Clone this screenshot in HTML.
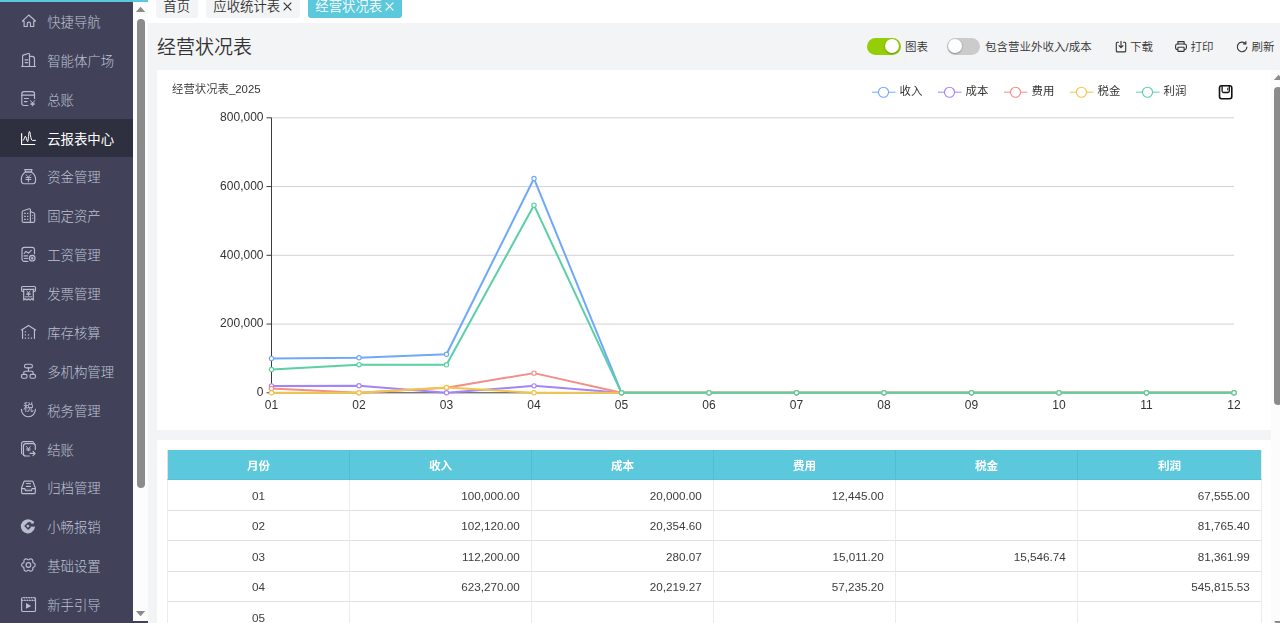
<!DOCTYPE html>
<html lang="zh-CN">
<head>
<meta charset="utf-8">
<title>经营状况表</title>
<style>
html,body{margin:0;padding:0}
body{width:1280px;height:623px;overflow:hidden;position:relative;background:#f3f4f6;
  font-family:"Liberation Sans","Noto Sans CJK SC",sans-serif;color:#333;font-size:13.3px;font-weight:350}
*{box-sizing:border-box}
.abs{position:absolute}
/* sidebar */
#side{position:absolute;left:0;top:0;width:148px;height:623px;background:#414259;overflow:hidden}
#topbar{position:absolute;left:0;top:0;width:148px;height:2px;background:#5bc8dc;z-index:5}
#menu{position:absolute;left:0;top:0;width:133px;height:623px;overflow:hidden}
.mi{position:absolute;left:0;width:133px;height:38.93px;color:#bfc3d4;font-size:13.4px;line-height:38.93px;white-space:nowrap}
.mi.act{background:#2e2f3f;color:#fff;height:37.9px}
.mi.act span{font-weight:400}
.ic{position:absolute;left:16px;width:24px;height:24px;overflow:visible}
.mi span{position:absolute;left:47.2px;top:1.9px;font-weight:300}
#sbar{position:absolute;left:133px;top:2px;width:15px;height:619px;background:#fcfcfc}
#sbar .thumb{position:absolute;left:3.6px;top:17px;width:8px;height:468.8px;border-radius:4px;background:#8b8b8b}
.arr-up{position:absolute;width:0;height:0;border-left:4.6px solid transparent;border-right:4.6px solid transparent;border-bottom:5px solid #8b8b8b}
.arr-dn{position:absolute;width:0;height:0;border-left:4.6px solid transparent;border-right:4.6px solid transparent;border-top:5px solid #8b8b8b}
/* tabs */
#tabs{position:absolute;left:148px;top:0;width:1132px;height:23px;background:#fff}
.tab{position:absolute;top:-6px;height:24px;border-radius:3px;background:#f3f4f6;color:#333;font-size:13.4px;line-height:25.5px;white-space:nowrap;padding-left:7.3px}
.tab.on{background:#5bc8dc;color:#fff}
.tab .x{position:absolute;top:7.6px;width:9px;height:9px;overflow:visible}
/* header */
#title{position:absolute;left:157px;top:34px;font-size:19px;line-height:28px;color:#333;white-space:nowrap}
.tool{position:absolute;top:39px;height:16px;line-height:16px;font-size:11.5px;color:#333;white-space:nowrap}
.sw{position:absolute;top:37.6px;width:33.5px;height:17px;border-radius:8.5px}
.sw i{position:absolute;top:1.2px;width:14.6px;height:14.6px;border-radius:50%;background:#fff;box-shadow:0 0.8px 1.8px rgba(0,0,0,.38)}
/* cards */
#card1{position:absolute;left:157px;top:70px;width:1114px;height:360px;background:#fff}
#card2{position:absolute;left:157px;top:439.7px;width:1114px;height:200px;background:#fff}
#chart{position:absolute;left:0;top:0;width:1280px;height:623px;pointer-events:none}
#chart text{font-family:"Liberation Sans","Noto Sans CJK SC",sans-serif;fill:#333}
#chart .ax{font-size:12px}
#chart .lg{font-size:11.4px;font-weight:400}
#chart .ct{font-size:11.4px}
/* right scrollbar */
#rbar{position:absolute;left:1271px;top:70px;width:15px;height:553px;background:#fcfcfc}
#rbar .thumb{position:absolute;left:2.9px;top:16.7px;width:8px;height:318.5px;border-radius:4px;background:#8b8b8b}
/* table */
table{position:absolute;left:167px;top:450px;width:1095px;border-collapse:separate;border-spacing:0;table-layout:fixed;font-size:12px}
th{height:30px;background:#5bc8dc;color:#fff;font-weight:700;font-size:11.6px;text-align:center;border-right:1px solid #52bdd2;border-bottom:1px solid #50c3da;padding:1px 0 0 0}
th:first-child{border-left:1px solid #e6dede}
th:last-child{border-right:1px solid #f1e9e9}
td{border-right:1px solid #ebebeb;border-bottom:1px solid #e1e1e1;padding:0 11.3px 0 0;color:#3c3c3c;background:#fff;font-weight:400;font-size:11.7px}
td:first-child{border-left:1px solid #ebebeb}
td.c{text-align:center;padding:0}
td.r{text-align:right}
</style>
</head>
<body>
<div id="side">
<div id="menu">
<div class="mi" style="top:2.00px"><span>快捷导航</span></div>
<svg class="ic" style="top:9px;color:#b9bdd0" viewBox="0 0 24 24"><g fill="none" stroke="currentColor" stroke-width="1.15" stroke-linecap="round" stroke-linejoin="round"><path d="M8.100 12.050H6.350L12.750 6.050L19.450 12.050H17.750V17.450H14.450V14.400Q14.450 13.100 12.900 13.100Q11.300 13.100 11.300 14.400V17.450H8.100Z"/></g></svg>
<div class="mi" style="top:40.88px"><span>智能体广场</span></div>
<svg class="ic" style="top:48px;color:#b9bdd0" viewBox="0 0 24 24"><g fill="none" stroke="currentColor" stroke-width="1.15" stroke-linecap="round" stroke-linejoin="round"><path d="M5.600 18.500H19.500"/><path d="M6.600 18.500V8Q6.600 7.350 7.200 7.150L12.300 5.550Q13.500 5.250 13.500 6.400V18.500"/><path d="M13.500 8.400H16Q18.500 8.400 18.500 11V18.500"/><path d="M9.200 11.900H11.700" stroke-width="1.400"/><path d="M9.200 14.600H11.700"/></g></svg>
<div class="mi" style="top:79.76px"><span>总账</span></div>
<svg class="ic" style="top:87px;color:#b9bdd0" viewBox="0 0 24 24"><g fill="none" stroke="currentColor" stroke-width="1.15" stroke-linecap="round" stroke-linejoin="round"><path d="M18.500 11.500V6.700a2.100 2.100 0 0 0-2.100-2.100H7.900a2.100 2.100 0 0 0-2.100 2.100V16.400a2.100 2.100 0 0 0 2.100 2.100H11.900"/><path d="M5.800 8.100H18.500"/><path d="M8.400 11.500H12.400M8.400 14.600H11.100"/><path d="M14.500 13.600L16.600 16L18.700 13.600M16.600 16V18.800M14.900 16.300H18.300M14.900 17.600H18.300" stroke-width="0.950"/></g></svg>
<div class="mi act" style="top:118.64px"><span>云报表中心</span></div>
<svg class="ic" style="top:126px;color:#fff" viewBox="0 0 24 24"><g fill="none" stroke="currentColor" stroke-width="1.15" stroke-linecap="round" stroke-linejoin="round" stroke-width="1.250"><path d="M5.600 7.500V18.500H18.700"/><path d="M7.100 14.600C8.300 14.600 8.600 10.200 9.400 10.200C10.300 10.200 10.800 15.600 11.600 15.600C12.500 15.600 12.600 5.400 13.400 5.400C14.400 5.400 14.500 14.400 16.400 14.400H19.500" stroke-width="1"/></g></svg>
<div class="mi" style="top:157.52px"><span>资金管理</span></div>
<svg class="ic" style="top:165px;color:#b9bdd0" viewBox="0 0 24 24"><g fill="none" stroke="currentColor" stroke-width="1.15" stroke-linecap="round" stroke-linejoin="round"><path d="M9.600 7C7 8.600 5.300 11 5.300 14.400C5.300 17.500 6.500 18.700 8 18.700H16.900C18.400 18.700 19.600 17.500 19.600 14.400C19.600 11 17.900 8.600 15.300 7Z"/><path d="M8.800 4.550H16L15.300 7H9.600Z"/><path d="M10.200 9.700L12.400 12.400L14.600 9.700M12.400 12.400V16.800M9.900 12.600H14.900M9.900 14.500H14.900" stroke-width="0.950"/></g></svg>
<div class="mi" style="top:196.40px"><span>固定资产</span></div>
<svg class="ic" style="top:204px;color:#b9bdd0" viewBox="0 0 24 24"><g fill="none" stroke="currentColor" stroke-width="1.15" stroke-linecap="round" stroke-linejoin="round"><path d="M14.400 18.400H7.700a1.500 1.500 0 0 1-1.500-1.500V8.200a1.500 1.500 0 0 1 1.100-1.450L13.200 4.800a1 1 0 0 1 1.200 1Z"/><path d="M14.400 7.400L17.900 9.100a1.500 1.500 0 0 1 0.800 1.300V16.900a1.500 1.500 0 0 1-1.500 1.500H14.400"/><path stroke-linecap="butt" d="M8.100 9.400H9.800M11 9.400H12.300M8.100 12.300H9.800M11 12.300H12.300M8.100 15.400H9.800M11 15.400H12.300M16.600 11V11.800M16.600 13.700V14.500"/></g></svg>
<div class="mi" style="top:235.28px"><span>工资管理</span></div>
<svg class="ic" style="top:243px;color:#b9bdd0" viewBox="0 0 24 24"><g fill="none" stroke="currentColor" stroke-width="1.15" stroke-linecap="round" stroke-linejoin="round" stroke-width="1.300"><path d="M18.500 10.700V6.600a2.300 2.300 0 0 0-2.300-2.300H8.300a2.300 2.300 0 0 0-2.300 2.300V16a2.300 2.300 0 0 0 2.300 2.300H11.900"/><path d="M8.200 10.500L9.900 8.300L12.500 10.200L15.300 7.400" stroke-width="1.100"/><path d="M8.200 12.900H11.500" stroke-width="1.400"/><path d="M8.200 15.400H11.900" stroke-width="1"/><circle cx="16.200" cy="15.200" r="2.850" stroke-width="1.100" fill="currentColor" fill-opacity="0.180"/><path d="M15.400 14.100L16.200 15.100L17 14.100M16.200 15.100V16.600M15.400 15.500H17" stroke-width="0.800"/></g></svg>
<div class="mi" style="top:274.16px"><span>发票管理</span></div>
<svg class="ic" style="top:282px;color:#b9bdd0" viewBox="0 0 24 24"><g fill="none" stroke="currentColor" stroke-width="1.15" stroke-linecap="round" stroke-linejoin="round"><path d="M7.500 9.300H6.600a1 1 0 0 1-1-1V5.500a1 1 0 0 1 1-1H18.500a1 1 0 0 1 1 1V8.300a1 1 0 0 1-1 1H17.500"/><path d="M7.200 7.300H18"/><path d="M7.700 7.300V18.100l1.600-1.400 1.600 1.400 1.600-1.400 1.600 1.400 1.600-1.400 1.600 1.400V7.300"/><path d="M10.900 8.900L12.500 10.900L14.100 8.900M12.500 10.900V13.400M10.800 11.300H14.200M10.800 12.400H14.200" stroke-width="0.900"/><path d="M9.200 14.800H15.800" stroke-width="0.900"/></g></svg>
<div class="mi" style="top:313.04px"><span>库存核算</span></div>
<svg class="ic" style="top:321px;color:#b9bdd0" viewBox="0 0 24 24"><g fill="none" stroke="currentColor" stroke-width="1.15" stroke-linecap="round" stroke-linejoin="round"><path d="M5.400 8.900L12.500 4.400L19.600 8.900"/><path d="M6.550 8.500V17.500M18.450 8.500V17.500"/></g><g fill="currentColor"><rect x="8.800" y="10.200" width="1.250" height="1.250"/><rect x="8.800" y="13.300" width="1.250" height="1.250"/><rect x="11.900" y="13.300" width="1.250" height="1.250"/><rect x="8.800" y="16.500" width="1.250" height="1.250"/><rect x="11.900" y="16.500" width="1.250" height="1.250"/><rect x="14.800" y="16.500" width="1.250" height="1.250"/></g></svg>
<div class="mi" style="top:351.92px"><span>多机构管理</span></div>
<svg class="ic" style="top:360px;color:#b9bdd0" viewBox="0 0 24 24"><g fill="none" stroke="currentColor" stroke-width="1.15" stroke-linecap="round" stroke-linejoin="round" stroke-width="1.250"><rect x="8.500" y="4.250" width="7.900" height="3.650" rx="1.750"/><rect x="5.500" y="14.300" width="5.500" height="3.900" rx="1.500"/><rect x="14" y="14.300" width="5.500" height="3.900" rx="1.500"/><path d="M12.450 7.800V11.200M7.800 14.300V12.400Q7.800 11.200 9 11.200H15.900Q17.100 11.200 17.100 12.400V14.300"/></g></svg>
<div class="mi" style="top:390.80px"><span>税务管理</span></div>
<svg class="ic" style="top:399px;color:#b9bdd0;will-change:transform" viewBox="0 0 24 24"><g fill="none" stroke="currentColor" stroke-width="1.15" stroke-linecap="round" stroke-linejoin="round" stroke-width="1.250"><path d="M5.350 10.300A7.050 7.400 0 0 0 19.450 10.300"/></g><text x="12.500" y="12.300" font-size="10.500" style="opacity:0.92" text-anchor="middle" fill="currentColor" font-family="Liberation Sans, Noto Sans CJK SC, sans-serif" font-weight="500">税</text></svg>
<div class="mi" style="top:429.68px"><span>结账</span></div>
<svg class="ic" style="top:438px;color:#b9bdd0" viewBox="0 0 24 24"><g fill="none" stroke="currentColor" stroke-width="1.15" stroke-linecap="round" stroke-linejoin="round"><path d="M5.600 15.300V5.700a2.100 2.100 0 0 1 2.100-2.100H16.800"/><path d="M19.300 11.500V7.900a2.300 2.300 0 0 0-2.300-2.300H9.800a2.300 2.300 0 0 0-2.300 2.300V15.700a2.300 2.300 0 0 0 2.300 2.300H13.500"/><path d="M16.900 3.600L18.700 5.900M5.600 15.400L7.900 17.500" stroke-width="0.900"/><path d="M10.500 8.500L12.400 10.800L14.300 8.500M12.400 10.800V13M10.700 10.900H14.100M10.700 12H14.100" stroke-width="0.900"/><path d="M14.100 15.400H19M17 13.400L19.100 15.400L17 17.600"/></g></svg>
<div class="mi" style="top:468.56px"><span>归档管理</span></div>
<svg class="ic" style="top:477px;color:#b9bdd0" viewBox="0 0 24 24"><g fill="none" stroke="currentColor" stroke-width="1.15" stroke-linecap="round" stroke-linejoin="round"><path d="M8.900 4.050H16Q16.700 4.050 17 4.700L19.300 10.700V15.600a1 1 0 0 1-1 1H6.600a1 1 0 0 1-1-1V10.700L7.900 4.700Q8.200 4.050 8.900 4.050Z"/><path d="M5.700 11.600H8.700L9.600 13.700H15.300L16.200 11.600H19.200" fill="currentColor" fill-opacity="0.250"/><path d="M10.400 6.500H14.500M10.400 9.400H14.500"/></g></svg>
<div class="mi" style="top:507.44px"><span>小畅报销</span></div>
<svg class="ic" style="top:516px;color:#b9bdd0" viewBox="0 0 24 24"><path d="M17.700 6.100A7.100 7.100 0 1 0 18.950 11.300L19 10.600H15.600L12.200 6.100Z" fill="currentColor"/><circle cx="11.900" cy="10.200" r="7.100" fill="none"/><path d="M8.200 10.100L12.200 6.100L15.200 9.100L14.700 10.600H15.600L12.200 14.100Z" fill="#414259"/><path d="M14.700 9L17.500 6.900L19.700 7.300L19.700 10.350L15.300 10.350Z" fill="#414259"/><rect x="19.150" y="10" width="1" height="4" fill="#414259"/><path d="M10.200 10.100L11.900 8.400L13.600 10.100L11.900 11.800Z" fill="currentColor"/><circle cx="16.350" cy="6.250" r="1.600" fill="currentColor"/></svg>
<div class="mi" style="top:546.32px"><span>基础设置</span></div>
<svg class="ic" style="top:554px;color:#b9bdd0" viewBox="0 0 24 24"><g fill="none" stroke="currentColor" stroke-width="1.15" stroke-linecap="round" stroke-linejoin="round" stroke-width="1.200"><circle cx="12.400" cy="11" r="2.350"/><path d="M19.10 11.00 L19.08 11.44 L19.00 11.87 L18.79 12.27 L18.46 12.62 L18.01 12.91 L17.55 13.13 L17.15 13.34 L16.90 13.60 L16.81 13.95 L16.82 14.39 L16.86 14.91 L16.83 15.43 L16.70 15.90 L16.45 16.28 L16.12 16.57 L15.75 16.80 L15.36 17.01 L14.95 17.15 L14.50 17.17 L14.02 17.06 L13.56 16.81 L13.13 16.52 L12.75 16.29 L12.40 16.20 L12.05 16.29 L11.67 16.52 L11.24 16.81 L10.78 17.06 L10.30 17.17 L9.85 17.15 L9.44 17.01 L9.05 16.80 L8.68 16.57 L8.35 16.28 L8.10 15.90 L7.97 15.43 L7.94 14.91 L7.98 14.39 L7.99 13.95 L7.90 13.60 L7.65 13.34 L7.25 13.13 L6.79 12.91 L6.34 12.62 L6.01 12.27 L5.80 11.87 L5.72 11.44 L5.70 11.00 L5.72 10.56 L5.80 10.13 L6.01 9.73 L6.34 9.38 L6.79 9.09 L7.25 8.87 L7.65 8.66 L7.90 8.40 L7.99 8.05 L7.98 7.61 L7.94 7.09 L7.97 6.57 L8.10 6.10 L8.35 5.72 L8.68 5.43 L9.05 5.20 L9.44 4.99 L9.85 4.85 L10.30 4.83 L10.78 4.94 L11.24 5.19 L11.67 5.48 L12.05 5.71 L12.40 5.80 L12.75 5.71 L13.13 5.48 L13.56 5.19 L14.02 4.94 L14.50 4.83 L14.95 4.85 L15.36 4.99 L15.75 5.20 L16.12 5.43 L16.45 5.72 L16.70 6.10 L16.83 6.57 L16.86 7.09 L16.82 7.61 L16.81 8.05 L16.90 8.40 L17.15 8.66 L17.55 8.87 L18.01 9.09 L18.46 9.38 L18.79 9.73 L19.00 10.13 L19.08 10.56Z"/></g></svg>
<div class="mi" style="top:585.20px"><span>新手引导</span></div>
<svg class="ic" style="top:593px;color:#b9bdd0" viewBox="0 0 24 24"><g fill="none" stroke="currentColor" stroke-width="1.15" stroke-linecap="round" stroke-linejoin="round" stroke-width="1.200"><rect x="5.600" y="4.450" width="13.900" height="14.050" rx="1.300"/><path d="M5.600 7.500H19.500"/><rect x="5.600" y="4.450" width="13.900" height="3.050" fill="currentColor" fill-opacity="0.450" stroke="none"/><path d="M6.800 5L7.800 7.100M9.300 5L10.300 7.100M11.800 5L12.800 7.100M14.300 5L15.300 7.100M16.800 5L17.800 7.100" stroke="#414259" stroke-width="1.150"/><path d="M10 10V15.800L15.200 12.900Z" fill="currentColor" stroke="none"/></g></svg>
</div>
<div id="sbar"><svg class="abs" style="left:0;top:0;width:15px;height:12px" viewBox="0 0 15 12"><path d="M2.900 9.900h9.300L7.550 4.700z" fill="#8b8b8b"/></svg><div class="thumb"></div><svg class="abs" style="left:0;top:607px;width:15px;height:12px" viewBox="0 0 15 12"><path d="M2.900 2h9.300L7.550 7.200z" fill="#8b8b8b"/></svg></div>
<div id="topbar"></div>
</div>

<div id="tabs">
<div class="tab" style="left:8px;width:42px">首页</div>
<div class="tab" style="left:58px;width:94px">应收统计表<svg class="x" style="left:76.5px" viewBox="0 0 9 9"><path d="M0.700 0.700l7.600 7.600M8.300 0.700l-7.600 7.600" stroke="#333" stroke-width="1.2" fill="none"/></svg></div>
<div class="tab on" style="left:160px;width:94px">经营状况表<svg class="x" style="left:76.5px" viewBox="0 0 9 9"><path d="M0.700 0.700l7.600 7.600M8.300 0.700l-7.600 7.600" stroke="#fff" stroke-width="1.2" fill="none"/></svg></div>
</div>

<div id="title">经营状况表</div>

<div class="sw" style="left:867px;background:#95cd06"><i style="left:17.5px"></i></div>
<div class="tool" style="left:905px">图表</div>
<div class="sw" style="left:946.5px;background:#cbcbcb"><i style="left:1.4px"></i></div>
<div class="tool" style="left:985px">包含营业外收入/成本</div>
<div class="tool" style="left:1130px">下载</div>
<div class="tool" style="left:1190.5px">打印</div>
<div class="tool" style="left:1251.6px">刷新</div>
<svg class="abs" style="left:1114px;top:40px;width:14px;height:14px" viewBox="0 0 14 14" fill="none" stroke="#333" stroke-width="1.1" stroke-linecap="round" stroke-linejoin="round"><path d="M4.500 2.300H3.300a1 1 0 0 0-1 1v7.600a1 1 0 0 0 1 1h7.400a1 1 0 0 0 1-1V3.300a1 1 0 0 0-1-1H9.500"/><path d="M7 1.300v6M5 5.600L7 7.600l2-2"/></svg>
<svg class="abs" style="left:1174px;top:40px;width:14px;height:14px" viewBox="0 0 14 14" fill="none" stroke="#333" stroke-width="1.1" stroke-linecap="round" stroke-linejoin="round"><path d="M3.900 4V1.600h6.200V4"/><rect x="1.600" y="4" width="10.800" height="5.600" rx="1.800"/><rect x="3.900" y="7.200" width="6.200" height="4.200" rx="0.500" fill="#f3f4f6"/></svg>
<svg class="abs" style="left:1235px;top:40px;width:14px;height:14px" viewBox="0 0 14 14" fill="none" stroke="#333" stroke-width="1.1" stroke-linecap="round" stroke-linejoin="round"><path d="M10.600 3.600A4.800 4.800 0 1 0 11.900 7"/><path d="M10.900 1.500v2.400H8.500" /></svg>

<div id="card1"></div>
<div id="card2"></div>
<svg id="chart" viewBox="0 0 1280 623">
<line x1="271.5" y1="117.80" x2="1234.0" y2="117.80" stroke="#d2d2d2" stroke-width="1"/>
<line x1="271.5" y1="186.55" x2="1234.0" y2="186.55" stroke="#d2d2d2" stroke-width="1"/>
<line x1="271.5" y1="255.30" x2="1234.0" y2="255.30" stroke="#d2d2d2" stroke-width="1"/>
<line x1="271.5" y1="324.05" x2="1234.0" y2="324.05" stroke="#d2d2d2" stroke-width="1"/>
<line x1="271.5" y1="117.8" x2="271.5" y2="392.8" stroke="#3c3c3c" stroke-width="1"/>
<line x1="271.5" y1="392.8" x2="1234.0" y2="392.8" stroke="#3c3c3c" stroke-width="1"/>
<line x1="266.5" y1="117.80" x2="271.5" y2="117.80" stroke="#3c3c3c" stroke-width="1"/>
<text x="263.5" y="121.10" text-anchor="end" class="ax">800,000</text>
<line x1="266.5" y1="186.55" x2="271.5" y2="186.55" stroke="#3c3c3c" stroke-width="1"/>
<text x="263.5" y="189.85" text-anchor="end" class="ax">600,000</text>
<line x1="266.5" y1="255.30" x2="271.5" y2="255.30" stroke="#3c3c3c" stroke-width="1"/>
<text x="263.5" y="258.60" text-anchor="end" class="ax">400,000</text>
<line x1="266.5" y1="324.05" x2="271.5" y2="324.05" stroke="#3c3c3c" stroke-width="1"/>
<text x="263.5" y="327.35" text-anchor="end" class="ax">200,000</text>
<line x1="266.5" y1="392.80" x2="271.5" y2="392.80" stroke="#3c3c3c" stroke-width="1"/>
<text x="263.5" y="396.10" text-anchor="end" class="ax">0</text>
<text x="271.50" y="409.00" text-anchor="middle" class="ax">01</text>
<text x="359.00" y="409.00" text-anchor="middle" class="ax">02</text>
<text x="446.50" y="409.00" text-anchor="middle" class="ax">03</text>
<text x="534.00" y="409.00" text-anchor="middle" class="ax">04</text>
<text x="621.50" y="409.00" text-anchor="middle" class="ax">05</text>
<text x="709.00" y="409.00" text-anchor="middle" class="ax">06</text>
<text x="796.50" y="409.00" text-anchor="middle" class="ax">07</text>
<text x="884.00" y="409.00" text-anchor="middle" class="ax">08</text>
<text x="971.50" y="409.00" text-anchor="middle" class="ax">09</text>
<text x="1059.00" y="409.00" text-anchor="middle" class="ax">10</text>
<text x="1146.50" y="409.00" text-anchor="middle" class="ax">11</text>
<text x="1234.00" y="409.00" text-anchor="middle" class="ax">12</text>
<polyline points="271.50,358.43 359.00,357.70 446.50,354.23 534.00,178.55 621.50,392.80 709.00,392.80 796.50,392.80 884.00,392.80 971.50,392.80 1059.00,392.80 1146.50,392.80 1234.00,392.80" fill="none" stroke="#6fa8fa" stroke-width="2" stroke-linejoin="round"/>
<circle cx="271.50" cy="358.43" r="2.15" fill="#fff" stroke="#6fa8fa" stroke-width="1.15"/>
<circle cx="359.00" cy="357.70" r="2.15" fill="#fff" stroke="#6fa8fa" stroke-width="1.15"/>
<circle cx="446.50" cy="354.23" r="2.15" fill="#fff" stroke="#6fa8fa" stroke-width="1.15"/>
<circle cx="534.00" cy="178.55" r="2.15" fill="#fff" stroke="#6fa8fa" stroke-width="1.15"/>
<circle cx="621.50" cy="392.80" r="2.15" fill="#fff" stroke="#6fa8fa" stroke-width="1.15"/>
<circle cx="709.00" cy="392.80" r="2.15" fill="#fff" stroke="#6fa8fa" stroke-width="1.15"/>
<circle cx="796.50" cy="392.80" r="2.15" fill="#fff" stroke="#6fa8fa" stroke-width="1.15"/>
<circle cx="884.00" cy="392.80" r="2.15" fill="#fff" stroke="#6fa8fa" stroke-width="1.15"/>
<circle cx="971.50" cy="392.80" r="2.15" fill="#fff" stroke="#6fa8fa" stroke-width="1.15"/>
<circle cx="1059.00" cy="392.80" r="2.15" fill="#fff" stroke="#6fa8fa" stroke-width="1.15"/>
<circle cx="1146.50" cy="392.80" r="2.15" fill="#fff" stroke="#6fa8fa" stroke-width="1.15"/>
<circle cx="1234.00" cy="392.80" r="2.15" fill="#fff" stroke="#6fa8fa" stroke-width="1.15"/>
<polyline points="271.50,385.93 359.00,385.80 446.50,392.70 534.00,385.85 621.50,392.80 709.00,392.80 796.50,392.80 884.00,392.80 971.50,392.80 1059.00,392.80 1146.50,392.80 1234.00,392.80" fill="none" stroke="#a484fa" stroke-width="2" stroke-linejoin="round"/>
<circle cx="271.50" cy="385.93" r="2.15" fill="#fff" stroke="#a484fa" stroke-width="1.15"/>
<circle cx="359.00" cy="385.80" r="2.15" fill="#fff" stroke="#a484fa" stroke-width="1.15"/>
<circle cx="446.50" cy="392.70" r="2.15" fill="#fff" stroke="#a484fa" stroke-width="1.15"/>
<circle cx="534.00" cy="385.85" r="2.15" fill="#fff" stroke="#a484fa" stroke-width="1.15"/>
<circle cx="621.50" cy="392.80" r="2.15" fill="#fff" stroke="#a484fa" stroke-width="1.15"/>
<circle cx="709.00" cy="392.80" r="2.15" fill="#fff" stroke="#a484fa" stroke-width="1.15"/>
<circle cx="796.50" cy="392.80" r="2.15" fill="#fff" stroke="#a484fa" stroke-width="1.15"/>
<circle cx="884.00" cy="392.80" r="2.15" fill="#fff" stroke="#a484fa" stroke-width="1.15"/>
<circle cx="971.50" cy="392.80" r="2.15" fill="#fff" stroke="#a484fa" stroke-width="1.15"/>
<circle cx="1059.00" cy="392.80" r="2.15" fill="#fff" stroke="#a484fa" stroke-width="1.15"/>
<circle cx="1146.50" cy="392.80" r="2.15" fill="#fff" stroke="#a484fa" stroke-width="1.15"/>
<circle cx="1234.00" cy="392.80" r="2.15" fill="#fff" stroke="#a484fa" stroke-width="1.15"/>
<polyline points="271.50,388.52 359.00,392.80 446.50,387.64 534.00,373.13 621.50,392.80 709.00,392.80 796.50,392.80 884.00,392.80 971.50,392.80 1059.00,392.80 1146.50,392.80 1234.00,392.80" fill="none" stroke="#f58c87" stroke-width="2" stroke-linejoin="round"/>
<circle cx="271.50" cy="388.52" r="2.15" fill="#fff" stroke="#f58c87" stroke-width="1.15"/>
<circle cx="359.00" cy="392.80" r="2.15" fill="#fff" stroke="#f58c87" stroke-width="1.15"/>
<circle cx="446.50" cy="387.64" r="2.15" fill="#fff" stroke="#f58c87" stroke-width="1.15"/>
<circle cx="534.00" cy="373.13" r="2.15" fill="#fff" stroke="#f58c87" stroke-width="1.15"/>
<circle cx="621.50" cy="392.80" r="2.15" fill="#fff" stroke="#f58c87" stroke-width="1.15"/>
<circle cx="709.00" cy="392.80" r="2.15" fill="#fff" stroke="#f58c87" stroke-width="1.15"/>
<circle cx="796.50" cy="392.80" r="2.15" fill="#fff" stroke="#f58c87" stroke-width="1.15"/>
<circle cx="884.00" cy="392.80" r="2.15" fill="#fff" stroke="#f58c87" stroke-width="1.15"/>
<circle cx="971.50" cy="392.80" r="2.15" fill="#fff" stroke="#f58c87" stroke-width="1.15"/>
<circle cx="1059.00" cy="392.80" r="2.15" fill="#fff" stroke="#f58c87" stroke-width="1.15"/>
<circle cx="1146.50" cy="392.80" r="2.15" fill="#fff" stroke="#f58c87" stroke-width="1.15"/>
<circle cx="1234.00" cy="392.80" r="2.15" fill="#fff" stroke="#f58c87" stroke-width="1.15"/>
<polyline points="271.50,392.80 359.00,392.80 446.50,387.46 534.00,392.80 621.50,392.80 709.00,392.80 796.50,392.80 884.00,392.80 971.50,392.80 1059.00,392.80 1146.50,392.80 1234.00,392.80" fill="none" stroke="#f0c548" stroke-width="2" stroke-linejoin="round"/>
<circle cx="271.50" cy="392.80" r="2.15" fill="#fff" stroke="#f0c548" stroke-width="1.15"/>
<circle cx="359.00" cy="392.80" r="2.15" fill="#fff" stroke="#f0c548" stroke-width="1.15"/>
<circle cx="446.50" cy="387.46" r="2.15" fill="#fff" stroke="#f0c548" stroke-width="1.15"/>
<circle cx="534.00" cy="392.80" r="2.15" fill="#fff" stroke="#f0c548" stroke-width="1.15"/>
<circle cx="621.50" cy="392.80" r="2.15" fill="#fff" stroke="#f0c548" stroke-width="1.15"/>
<circle cx="709.00" cy="392.80" r="2.15" fill="#fff" stroke="#f0c548" stroke-width="1.15"/>
<circle cx="796.50" cy="392.80" r="2.15" fill="#fff" stroke="#f0c548" stroke-width="1.15"/>
<circle cx="884.00" cy="392.80" r="2.15" fill="#fff" stroke="#f0c548" stroke-width="1.15"/>
<circle cx="971.50" cy="392.80" r="2.15" fill="#fff" stroke="#f0c548" stroke-width="1.15"/>
<circle cx="1059.00" cy="392.80" r="2.15" fill="#fff" stroke="#f0c548" stroke-width="1.15"/>
<circle cx="1146.50" cy="392.80" r="2.15" fill="#fff" stroke="#f0c548" stroke-width="1.15"/>
<circle cx="1234.00" cy="392.80" r="2.15" fill="#fff" stroke="#f0c548" stroke-width="1.15"/>
<polyline points="271.50,369.58 359.00,364.69 446.50,364.83 534.00,205.18 621.50,392.80 709.00,392.80 796.50,392.80 884.00,392.80 971.50,392.80 1059.00,392.80 1146.50,392.80 1234.00,392.80" fill="none" stroke="#5ad0a4" stroke-width="2" stroke-linejoin="round"/>
<circle cx="271.50" cy="369.58" r="2.15" fill="#fff" stroke="#5ad0a4" stroke-width="1.15"/>
<circle cx="359.00" cy="364.69" r="2.15" fill="#fff" stroke="#5ad0a4" stroke-width="1.15"/>
<circle cx="446.50" cy="364.83" r="2.15" fill="#fff" stroke="#5ad0a4" stroke-width="1.15"/>
<circle cx="534.00" cy="205.18" r="2.15" fill="#fff" stroke="#5ad0a4" stroke-width="1.15"/>
<circle cx="621.50" cy="392.80" r="2.15" fill="#fff" stroke="#5ad0a4" stroke-width="1.15"/>
<circle cx="709.00" cy="392.80" r="2.15" fill="#fff" stroke="#5ad0a4" stroke-width="1.15"/>
<circle cx="796.50" cy="392.80" r="2.15" fill="#fff" stroke="#5ad0a4" stroke-width="1.15"/>
<circle cx="884.00" cy="392.80" r="2.15" fill="#fff" stroke="#5ad0a4" stroke-width="1.15"/>
<circle cx="971.50" cy="392.80" r="2.15" fill="#fff" stroke="#5ad0a4" stroke-width="1.15"/>
<circle cx="1059.00" cy="392.80" r="2.15" fill="#fff" stroke="#5ad0a4" stroke-width="1.15"/>
<circle cx="1146.50" cy="392.80" r="2.15" fill="#fff" stroke="#5ad0a4" stroke-width="1.15"/>
<circle cx="1234.00" cy="392.80" r="2.15" fill="#fff" stroke="#5ad0a4" stroke-width="1.15"/>
<line x1="872" y1="92.2" x2="895.5" y2="92.2" stroke="#6fa8fa" stroke-width="1.1" opacity="0.9"/>
<circle cx="883.5" cy="92.25" r="5.05" fill="#fff" stroke="#6fa8fa" stroke-width="1.15"/>
<text x="899.6" y="95.4" class="lg">收入</text>
<line x1="938" y1="92.2" x2="961.5" y2="92.2" stroke="#a484fa" stroke-width="1.1" opacity="0.9"/>
<circle cx="949.5" cy="92.25" r="5.05" fill="#fff" stroke="#a484fa" stroke-width="1.15"/>
<text x="965.6" y="95.4" class="lg">成本</text>
<line x1="1004" y1="92.2" x2="1027.5" y2="92.2" stroke="#f58c87" stroke-width="1.1" opacity="0.9"/>
<circle cx="1015.5" cy="92.25" r="5.05" fill="#fff" stroke="#f58c87" stroke-width="1.15"/>
<text x="1031.6" y="95.4" class="lg">费用</text>
<line x1="1070" y1="92.2" x2="1093.5" y2="92.2" stroke="#f0c548" stroke-width="1.1" opacity="0.9"/>
<circle cx="1081.5" cy="92.25" r="5.05" fill="#fff" stroke="#f0c548" stroke-width="1.15"/>
<text x="1097.6" y="95.4" class="lg">税金</text>
<line x1="1136" y1="92.2" x2="1159.5" y2="92.2" stroke="#5ad0a4" stroke-width="1.1" opacity="0.9"/>
<circle cx="1147.5" cy="92.25" r="5.05" fill="#fff" stroke="#5ad0a4" stroke-width="1.15"/>
<text x="1163.6" y="95.4" class="lg">利润</text>
<text x="172" y="93" class="ct">经营状况表_2025</text>
<g fill="none" stroke="#111" stroke-linejoin="round" stroke-linecap="round"><rect x="1219.5" y="85.8" width="12.3" height="12.9" rx="2.100" stroke-width="1.6"/><path d="M1222.1 86v5a1.500 1.500 0 0 0 1.500 1.500h4.200a1.500 1.500 0 0 0 1.500-1.500V86" stroke-width="1.300"/><path d="M1227.700 88.200v1.700" stroke-width="0.900"/></g>
</svg>

<table>
<colgroup><col style="width:183px"><col style="width:182px"><col style="width:182px"><col style="width:182px"><col style="width:182px"><col style="width:184px"></colgroup>
<thead><tr><th>月份</th><th>收入</th><th>成本</th><th>费用</th><th>税金</th><th>利润</th></tr></thead>
<tbody>
<tr style="height:31px"><td class="c">01</td><td class="r">100,000.00</td><td class="r">20,000.00</td><td class="r">12,445.00</td><td class="r"></td><td class="r">67,555.00</td></tr>
<tr style="height:30px"><td class="c">02</td><td class="r">102,120.00</td><td class="r">20,354.60</td><td class="r"></td><td class="r"></td><td class="r">81,765.40</td></tr>
<tr style="height:31px"><td class="c">03</td><td class="r">112,200.00</td><td class="r">280.07</td><td class="r">15,011.20</td><td class="r">15,546.74</td><td class="r">81,361.99</td></tr>
<tr style="height:30px"><td class="c">04</td><td class="r">623,270.00</td><td class="r">20,219.27</td><td class="r">57,235.20</td><td class="r"></td><td class="r">545,815.53</td></tr>
<tr style="height:31px"><td class="c">05</td><td class="r"></td><td class="r"></td><td class="r"></td><td class="r"></td><td class="r"></td></tr>
</tbody>
</table>

<div id="rbar"><svg class="abs" style="left:0;top:0;width:15px;height:12px" viewBox="0 0 15 12"><path d="M2.900 9.900h9.300L7.550 4.700z" fill="#8b8b8b"/></svg><div class="thumb"></div><svg class="abs" style="left:0;top:549px;width:15px;height:12px" viewBox="0 0 15 12"><path d="M2.900 2h9.300L7.550 7.200z" fill="#8b8b8b"/></svg></div>
</body>
</html>
